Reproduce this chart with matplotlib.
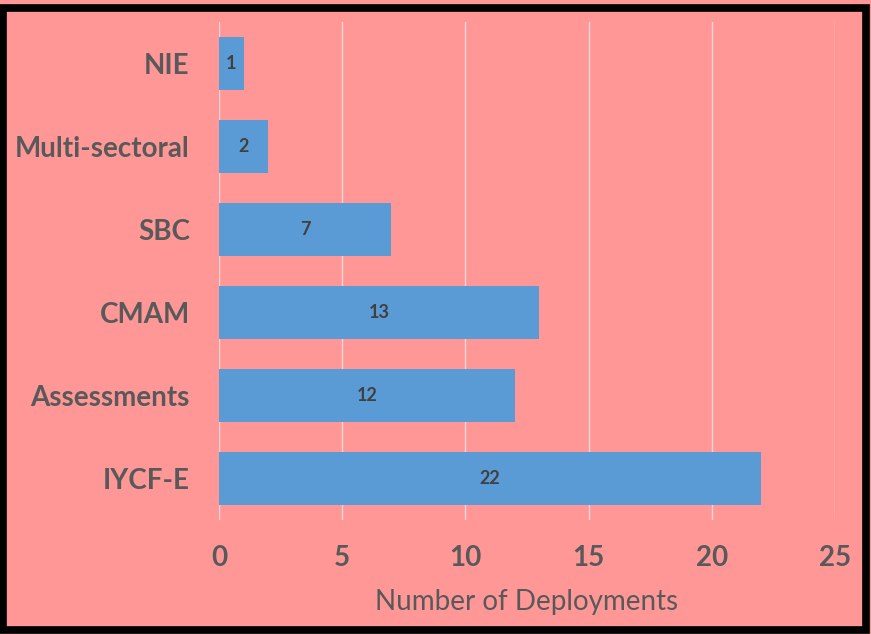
import matplotlib.pyplot as plt
from matplotlib.patches import Rectangle

# Data (bottom to top)
categories = ["IYCF-E", "Assessments", "CMAM", "SBC", "Multi-sectoral", "NIE"]
deployments = [22, 12, 13, 7, 2, 1]
xticks = [0, 5, 10, 15, 20, 25]

PINK = "#FF9797"
BLUE = "#5B9BD5"
GRAY = "#595959"

plt.rcParams['font.family'] = ['Lato', 'DejaVu Sans']

fig = plt.figure(figsize=(8.71, 6.34), dpi=100, facecolor=PINK)
ax = fig.add_axes([219/871, 1 - 520/634, (835 - 219)/871, (520 - 22)/634])
ax.set_facecolor(PINK)

bars = ax.barh(categories, deployments, height=0.63, color=BLUE, zorder=3)
ax.bar_label(bars, labels=[str(v) for v in deployments], label_type='center',
             fontsize=13, fontweight='bold', color="#404040")

ax.set_xlim(0, 25)
ax.set_ylim(-0.5, len(categories) - 0.5)
ax.set_xticks(xticks)
ax.grid(axis='x', color="#F2D6D6", linewidth=1, zorder=0)
ax.set_axisbelow(True)
for s in ax.spines.values():
    s.set_visible(False)

ax.tick_params(axis='y', length=0, pad=21, labelsize=20, labelcolor=GRAY)
ax.tick_params(axis='x', length=0, pad=18, labelsize=20, labelcolor=GRAY)
for lab in ax.get_yticklabels() + ax.get_xticklabels():
    lab.set_fontweight('bold')

ax.set_xlabel("Number of Deployments", fontsize=20, color=GRAY, labelpad=13)

# black frame around the figure
fig.patches.append(Rectangle((0.004, 0.006), 0.99, 0.982, transform=fig.transFigure,
                             fill=False, edgecolor='black', linewidth=5.5))

fig.savefig("out.png", dpi=100, facecolor=PINK)
